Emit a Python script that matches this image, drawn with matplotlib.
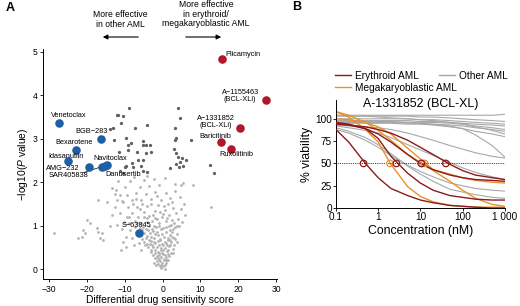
import matplotlib
matplotlib.use("Agg")
import matplotlib.pyplot as plt

plt.rcParams['font.family'] = ['Liberation Sans', 'DejaVu Sans']
plt.rcParams['mathtext.fontset'] = 'custom'
plt.rcParams['mathtext.rm'] = 'Liberation Sans'
plt.rcParams['mathtext.it'] = 'Liberation Sans:italic'

# ---------------- panel A data (DSS, -log10 P) ----------------
light_pts = [
    (-0.3, 0.03), (0.2, 0.06), (-0.8, 0.08), (0.6, 0.1), (-1.2, 0.12), (1.0, 0.14), (-0.2, 0.15),
    (-1.6, 0.18), (0.4, 0.2), (1.4, 0.21), (-0.9, 0.23), (-2.0, 0.25), (0.9, 0.27), (-0.5, 0.28),
    (1.8, 0.3), (-1.5, 0.3), (-2.6, 0.33), (0.1, 0.34), (-1.0, 0.36), (2.2, 0.37), (-3.2, 0.4),
    (1.2, 0.41), (-0.4, 0.43), (-2.0, 0.45), (2.7, 0.46), (0.6, 0.48), (-3.8, 0.5), (-1.4, 0.51),
    (1.7, 0.53), (-2.7, 0.55), (3.0, 0.56), (-0.2, 0.57), (-4.2, 0.58), (0.9, 0.6), (-1.9, 0.6),
    (2.3, 0.62), (-4.8, 0.63), (-3.0, 0.65), (-0.8, 0.66), (1.5, 0.68), (3.4, 0.69), (-5.5, 0.7),
    (-2.3, 0.72), (0.3, 0.73), (2.6, 0.75), (-4.0, 0.76), (-6.2, 0.6), (-1.2, 0.78), (3.8, 0.8),
    (-3.4, 0.82), (-5.0, 0.84), (1.0, 0.85), (-7.0, 0.86), (-2.6, 0.88), (2.0, 0.9), (-4.5, 0.92),
    (-0.5, 0.93), (-6.0, 0.95), (3.2, 0.96), (-1.8, 0.98), (4.3, 0.99), (-3.6, 1.0), (-8.0, 0.72),
    (-9.6, 0.5), (-10.5, 0.62), (-9.8, 0.75), (-8.5, 0.9), (-11.0, 0.45), (-7.5, 0.55),
    (-28.7, 0.84), (-22.3, 0.71), (-21.4, 0.75), (-20.5, 0.82), (-21.0, 0.9), (-20.1, 1.14),
    (-19.2, 1.05), (-17.4, 0.94), (-17.0, 0.86), (-16.1, 0.82), (-16.6, 0.71), (-15.7, 0.67),
    (-17.0, 1.59), (-12.2, 1.82), (-11.3, 1.7), (-10.4, 1.55), (-13.5, 1.25), (-14.0, 1.0),
    (-12.0, 1.02), (-10.2, 1.08), (-8.8, 1.05), (-7.4, 1.1), (-5.8, 1.05), (-4.2, 1.08), (-2.8, 1.1),
    (-1.0, 1.06), (0.8, 1.1), (2.6, 1.12), (4.0, 1.15), (5.2, 1.08), (-9.5, 1.2), (-6.5, 1.2),
    (-3.5, 1.22), (-0.2, 1.2), (1.8, 1.24), (3.5, 1.3), (-11.2, 1.3), (-8.0, 1.3), (-5.0, 1.32),
    (-2.0, 1.34), (0.6, 1.36), (2.8, 1.4), (4.8, 1.38), (-12.5, 1.42), (-9.2, 1.44), (-6.8, 1.42),
    (-4.0, 1.46), (-1.2, 1.48), (1.5, 1.5), (12.8, 1.44), (6.0, 1.25),
    (-14.8, 1.55), (-10.8, 1.56), (-8.0, 1.58), (-5.6, 1.6), (-3.0, 1.62), (-0.5, 1.6), (2.0, 1.64),
    (4.6, 1.66), (-12.6, 1.72), (-9.5, 1.7), (-7.0, 1.75), (-4.5, 1.74), (-2.0, 1.78), (0.8, 1.76),
    (3.2, 1.8), (-13.5, 1.86), (-10.0, 1.9), (-6.0, 1.88), (-3.6, 1.92), (-1.0, 1.94), (4.9, 1.94),
    (5.3, 1.98), (3.4, 1.96), (8.0, 1.94), (-11.8, 2.02), (-8.6, 2.04), (-5.0, 2.05), (-2.4, 2.08),
    (0.5, 2.1), (-7.6, 2.12), (-4.0, 2.15),
    (-1.1, 0.4), (0.7, 0.32), (-2.3, 0.62), (1.1, 0.55), (-0.6, 0.7), (-3.6, 0.68), (2.4, 0.86),
    (-1.6, 0.86), (0.0, 0.95), (-5.2, 0.98), (1.6, 1.0), (-2.2, 1.0), (3.0, 1.05), (-6.6, 0.8),
    (-4.6, 0.55), (-3.0, 0.45), (-0.9, 0.55), (0.5, 0.63), (1.9, 0.78), (-2.9, 0.92), (-4.0, 1.18),
    (-1.5, 1.15), (0.0, 1.28), (2.2, 1.02), (-6.0, 1.38), (-3.2, 1.5), (-7.8, 1.5), (0.2, 0.45),
    (-1.8, 0.1), (1.2, 0.2), (-0.1, 0.38), (-2.4, 0.15), (2.8, 0.38), (-5.8, 0.45), (3.8, 0.62),
    (-7.2, 0.98), (-8.8, 1.2), (-10.8, 0.92), (-12.0, 1.6), (5.6, 1.5),
    (-0.7, 0.18), (0.9, 0.2), (-1.3, 0.26), (0.3, 0.24), (1.5, 0.35), (-1.9, 0.38), (-0.3, 0.48),
    (1.4, 0.45), (-2.5, 0.5), (0.2, 0.55), (-1.2, 0.64), (2.0, 0.68), (-3.3, 0.58), (-0.1, 0.8),
    (1.3, 0.72), (-2.0, 0.8), (0.8, 0.98), (-3.9, 0.9), (-1.0, 1.0), (2.8, 0.92), (-5.5, 0.9),
    (-4.8, 1.2), (-2.6, 1.25), (-0.8, 1.32), (1.2, 1.18), (3.8, 1.0), (-6.8, 1.05), (-3.0, 0.75),
    (-0.5, 0.1), (0.5, 0.0), (-1.0, 0.32), (1.9, 0.55), (2.9, 0.72), (-4.4, 0.72), (-2.0, 1.18),
    (0.3, 1.45), (-5.4, 1.5), (2.4, 1.55), (-1.5, 1.68), (-7.0, 1.62),
]

dark_pts = [
    (-12.0, 3.55), (-10.4, 3.52), (-8.9, 3.70), (-4.0, 3.32), (-7.4, 3.26), (-10.9, 3.36),
    (-13.9, 3.22), (-12.9, 2.97), (-9.8, 3.03), (-8.4, 2.90), (-5.2, 2.96), (-5.3, 2.86),
    (-3.4, 2.86), (-11.5, 2.70), (-9.1, 2.74), (-6.9, 2.70), (-4.3, 2.67), (-3.2, 2.70),
    (-6.5, 2.51), (-5.2, 2.51), (-8.2, 2.44), (-9.6, 2.37), (-5.2, 2.26), (-4.1, 2.24),
    (-10.4, 2.22), (-11.3, 2.26), (-11.8, 3.56), (-7.8, 2.36), (-5.6, 2.37), (-10.0, 2.36),
    (-9.1, 2.86), (-4.3, 2.86), (-13.2, 3.26),
    (4.0, 3.72), (4.7, 3.47), (3.4, 3.24), (3.6, 3.01), (3.2, 2.97), (7.4, 2.97), (3.0, 2.76),
    (3.6, 2.67), (4.0, 2.59), (5.2, 2.55), (6.2, 2.51), (4.7, 2.47), (3.6, 2.42), (5.5, 2.37),
    (4.3, 2.34), (2.0, 2.32), (12.6, 2.40), (13.7, 2.22),
]

blue_names = ['Venetoclax', 'BGB\u2212283', 'Bexarotene', 'Idasanutlin', 'AMG\u2212232',
              'Navitoclax', 'SAR405838', 'Danusertib', 'S\u221263845']
blue_dss = [-27.3, -16.4, -23.0, -25.0, -19.4, -14.6, -16.1, -15.3, -6.2]
blue_logp = [3.37, 2.99, 2.74, 2.50, 2.35, 2.40, 2.36, 2.38, 0.82]
blue_lab_x = [-24.7, -18.8, -23.3, -25.5, -26.4, -13.8, -24.9, -10.4, -6.9]
blue_lab_y = [3.53, 3.16, 2.92, 2.60, 2.32, 2.55, 2.15, 2.17, 1.01]

red_names = ['Plicamycin', 'A\u22121155463\n(BCL-XLi)', 'A\u22121331852\n(BCL-XLi)',
             'Baricitinib', 'Ruxolitinib']
red_dss = [15.8, 27.4, 20.4, 15.4, 18.1]
red_logp = [4.84, 3.90, 3.24, 2.92, 2.77]
red_lab_x = [16.6, 20.5, 14.0, 13.9, 19.4]
red_lab_y = [4.95, 3.99, 3.39, 3.06, 2.63]

# ---------------- panel B data (% viability at each concentration, nM) ----------------
conc = [0.1, 0.2, 0.5, 1, 2, 5, 10, 20, 50, 100, 200, 500, 1000]
other_curves = [
    [104, 104, 104, 104, 104, 104, 104, 104, 104, 104, 104, 104, 105],
    [103, 103, 103, 103, 103, 103, 102, 102, 101, 100, 99, 98, 97],
    [100, 100, 100, 100, 100, 100, 99, 99, 98, 97, 96, 95, 94],
    [98, 98, 98, 98, 98, 98, 97, 97, 96, 95, 94, 93, 92],
    [97, 97, 97, 97, 97, 96, 96, 96, 95, 94, 92, 90, 88],
    [96, 96, 96, 96, 96, 96, 95, 94, 93, 92, 90, 88, 86],
    [95, 95, 95, 95, 95, 94, 94, 93, 91, 89, 86, 83, 80],
    [96, 96, 96, 96, 96, 95, 95, 94, 92, 89, 82, 70, 57],
    [104, 103, 103, 102, 101, 100, 99, 98, 96, 94, 91, 87, 83],
    [93, 92, 91, 90, 88, 84, 80, 76, 70, 66, 62, 58, 56],
    [92, 90, 87, 84, 79, 71, 65, 59, 51, 45, 40, 35, 32],
    [88, 84, 76, 68, 59, 48, 41, 35, 28, 25, 22, 20, 19],
    [90, 86, 79, 71, 61, 47, 38, 30, 21, 18, 15, 12, 11],
]
ery_curves = [
    [88, 74, 50, 34, 22, 14, 9, 6, 3, 2, 1, 0, 0],
    [96, 94, 89, 78, 58, 39, 28, 20, 14, 12, 10, 9, 9],
    [95, 93, 89, 83, 74, 60, 50, 43, 37, 34, 32, 31, 30],
    [94, 93, 91, 88, 84, 76, 68, 60, 49, 42, 37, 34, 32],
]
mega_curves = [
    [108, 102, 88, 74, 49, 24, 13, 7, 3, 2, 1, 1, 1],
    [100, 99, 96, 91, 83, 67, 55, 43, 38, 34, 31, 29, 28],
    [108, 104, 96, 87, 76, 60, 51, 42, 30, 20, 11, 4, 2],
]
ery_ic50 = [0.45, 2.7, 10.5, 40]
mega_ic50 = [1.9, 12.5, 11]

c_light = '#b4b4b4'
c_dark = '#606060'
c_blue = '#1f5fa6'
c_red = '#b3152b'
c_ery = '#8c1a1c'
c_mega = '#e8922c'
c_other = '#a8a8a8'

fig = plt.figure(figsize=(5.2, 3.06), dpi=100)

# ================= panel A =================
ax = fig.add_axes([0.083, 0.088, 0.45, 0.752])
lx, ly = zip(*light_pts)
dx, dy = zip(*dark_pts)
ax.scatter(lx, ly, s=4, color=c_light, linewidths=0, zorder=1)
ax.scatter(dx, dy, s=5.5, color=c_dark, linewidths=0, zorder=2)
ax.scatter(blue_dss, blue_logp, s=38, color=c_blue, linewidths=0, zorder=3)
ax.scatter(red_dss, red_logp, s=38, color=c_red, linewidths=0, zorder=3)

for name, tx, ty in zip(blue_names, blue_lab_x, blue_lab_y):
    ax.text(tx, ty, name, fontsize=5.3, ha='center', va='center', zorder=4)
ax.plot([-21.0, -16.1], [2.22, 2.36], color='black', lw=0.5, zorder=2)
for name, tx, ty in zip(red_names, red_lab_x, red_lab_y):
    ha = 'left' if name == 'Plicamycin' else 'center'
    ax.text(tx, ty, name, fontsize=5.3, ha=ha, va='center', linespacing=1.0, zorder=4)

ax.set_xlim(-31.6, 30.3)
ax.set_ylim(-0.23, 5.07)
ax.set_xticks([-30, -20, -10, 0, 10, 20, 30])
ax.set_xticklabels(['\u221230', '\u221220', '\u221210', '0', '10', '20', '30'])
ax.set_yticks([0, 1, 2, 3, 4, 5])
ax.tick_params(labelsize=6.2, length=2.5, width=0.6, pad=1.5)
for s in ['top', 'right']:
    ax.spines[s].set_visible(False)
for s in ['left', 'bottom']:
    ax.spines[s].set_linewidth(0.7)
ax.set_xlabel('Differential drug sensitivity score', fontsize=7.4, labelpad=1)
ax.set_ylabel(r'$-$log10($P$ value)', fontsize=7.4, labelpad=2)

fig.text(120 / 520, 1 - 19.5 / 306, 'More effective\nin other AML', fontsize=6.2,
         ha='center', va='center', linespacing=1.05)
fig.text(206 / 520, 1 - 14.3 / 306, 'More effective\nin erythroid/\nmegakaryoblastic AML',
         fontsize=6.2, ha='center', va='center', linespacing=1.05)
arrow_kw = dict(arrowstyle='-|>', color='black', lw=0.8, mutation_scale=7)
fig.add_artist(matplotlib.patches.FancyArrowPatch((141 / 520, 1 - 37 / 306), (100 / 520, 1 - 37 / 306),
                                                  transform=fig.transFigure, **arrow_kw))
fig.add_artist(matplotlib.patches.FancyArrowPatch((183 / 520, 1 - 37 / 306), (224 / 520, 1 - 37 / 306),
                                                  transform=fig.transFigure, **arrow_kw))
fig.text(6 / 520, 1 - 8 / 306, 'A', fontsize=9, fontweight='bold', ha='left', va='center')
fig.text(292 / 520, 1 - 7 / 306, 'B', fontsize=9, fontweight='bold', ha='left', va='center')

# ================= panel B =================
bx = fig.add_axes([0.646, 0.32, 0.325, 0.353])
for v in other_curves:
    bx.plot(conc, v, color=c_other, lw=0.8, zorder=1)
for v in mega_curves:
    bx.plot(conc, v, color=c_mega, lw=1.0, zorder=2)
for v in ery_curves:
    bx.plot(conc, v, color=c_ery, lw=1.0, zorder=3)
bx.plot([0.1, 1000], [50, 50], color='black', lw=0.6, ls=(0, (1, 1.2)), zorder=4)
bx.scatter(mega_ic50, [50] * len(mega_ic50), s=22, facecolors='none', edgecolors=c_mega,
           linewidths=0.9, zorder=5)
bx.scatter(ery_ic50, [50] * len(ery_ic50), s=22, facecolors='none', edgecolors=c_ery,
           linewidths=0.9, zorder=6)

bx.set_xscale('log')
bx.set_xlim(0.1, 1000)
bx.set_ylim(0, 121)
bx.set_xticks([0.1, 1, 10, 100, 1000])
bx.set_xticklabels(['0.1', '1', '10', '100', '1 000'])
bx.minorticks_off()
bx.set_yticks([0, 25, 50, 75, 100])
bx.tick_params(labelsize=7.2, length=2, width=0.6, pad=1)
for s in ['top', 'right']:
    bx.spines[s].set_visible(False)
for s in ['left', 'bottom']:
    bx.spines[s].set_linewidth(0.7)
bx.set_xlabel('Concentration (nM)', fontsize=8.8, labelpad=2)
bx.set_ylabel('% viability', fontsize=8.8, labelpad=1)
bx.text(0.5, 0.963, 'A-1331852 (BCL-XL)', transform=bx.transAxes, fontsize=8.9,
        ha='center', va='center')

h_ery = matplotlib.lines.Line2D([], [], color=c_ery, lw=1.0)
h_mega = matplotlib.lines.Line2D([], [], color=c_mega, lw=1.0)
h_oth = matplotlib.lines.Line2D([], [], color=c_other, lw=1.0)
leg1 = fig.legend([h_ery, h_mega], ['Erythroid AML', 'Megakaryoblastic AML'],
                  loc='upper left', bbox_to_anchor=(335 / 520, 1 - 71 / 306), frameon=False,
                  fontsize=7.3, handlelength=1.6, handletextpad=0.4, labelspacing=0.15,
                  borderpad=0, borderaxespad=0)
leg2 = fig.legend([h_oth], ['Other AML'], loc='upper left',
                  bbox_to_anchor=(439 / 520, 1 - 71 / 306), frameon=False, fontsize=7.3,
                  handlelength=1.6, handletextpad=0.4, borderpad=0, borderaxespad=0)

fig.savefig('out.png', dpi=100)
